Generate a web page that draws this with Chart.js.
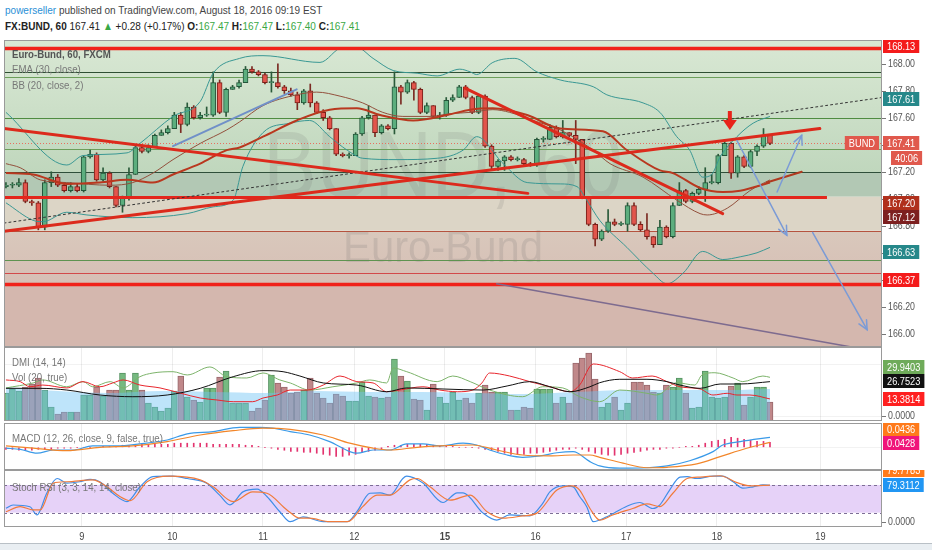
<!DOCTYPE html>
<html>
<head>
<meta charset="utf-8">
<title>FX:BUND, 60</title>
<script src="https://cdn.jsdelivr.net/npm/chart.js@4.4.1/dist/chart.umd.min.js"></script>
<style>
  body { margin:0; width:932px; height:550px; overflow:hidden; background:#fff; position:relative;
         font-family:"Liberation Sans", Arial, sans-serif; }
  .hdr { position:absolute; left:5px; font-size:11.5px; color:#444; white-space:nowrap;
         transform:scaleX(0.87); transform-origin:0 0; }
  #h1 { top:4px; }
  #h2 { top:20px; color:#222; }
  .user { color:#2b8fd6; }
  .up { color:#3aa845; }
  canvas { position:absolute; left:0; }
  #foot { position:absolute; left:0; top:543px; width:932px; height:7px; background:#e9eef2; border-top:1px solid #b9c0c6; }
</style>
</head>
<body>
<div class="hdr" id="h1"><span class="user">powerseller</span> published on TradingView.com, August 18, 2016 09:19 EST</div>
<div class="hdr" id="h2"><b>FX:BUND, 60</b> 167.41 <span class="up">&#9650;</span> +0.28 (+0.17%) <b>O:</b><span class="up">167.47</span> <b>H:</b><span class="up">167.47</span> <b>L:</b><span class="up">167.40</span> <b>C:</b><span class="up">167.41</span></div>
<canvas id="main" width="932" height="307" style="top:40px"></canvas>
<canvas id="dmi" width="932" height="74" style="top:347px"></canvas>
<canvas id="macd" width="932" height="47" style="top:423px"></canvas>
<canvas id="stoch" width="932" height="80" style="top:470px"></canvas>
<div id="foot"></div>
<script>
// ---- data (hourly bars, index 0 = first bar on the left) ----
const dayLabels = ['9', '10', '11', '12', '15', '16', '17', '18', '19'];
const dayPos = [11.7, 25.7, 39.7, 53.8, 67.8, 81.8, 95.8, 109.8, 125.8];
const priceTicks = [166.0, 166.2, 166.4, 166.6, 166.8, 167.0, 167.2, 167.4, 167.6, 167.8, 168.0];

const firstOpen = 167.09;
const closes = [167.10,167.10,167.12,166.98,166.97,166.79,167.12,167.16,167.10,167.06,
  167.09,167.06,167.31,167.33,167.14,167.19,167.09,166.95,167.01,167.18,
  167.38,167.35,167.38,167.47,167.49,167.52,167.62,167.55,167.68,167.60,
  167.62,167.62,167.86,167.64,167.81,167.83,167.86,167.96,167.94,167.92,
  167.86,167.86,167.83,167.80,167.77,167.71,167.80,167.71,167.64,167.60,
  167.52,167.33,167.32,167.32,167.48,167.60,167.62,167.49,167.54,167.52,
  167.83,167.79,167.86,167.81,167.64,167.69,167.61,167.62,167.73,167.75,
  167.83,167.75,167.64,167.76,167.39,167.24,167.28,167.31,167.29,167.29,
  167.26,167.25,167.44,167.44,167.53,167.46,167.49,167.47,167.44,167.01,
  166.81,166.70,166.76,166.83,166.81,166.81,166.95,166.81,166.77,166.72,
  166.66,166.79,166.72,166.95,167.06,166.98,167.04,167.07,167.12,167.12,
  167.32,167.41,167.19,167.31,167.24,167.35,167.39,167.47,167.41];
const highs = [167.12,167.12,167.15,167.14,166.99,166.98,167.14,167.20,167.18,167.12,
  167.12,167.11,167.32,167.36,167.34,167.23,167.20,167.09,167.02,167.23,
  167.40,167.40,167.40,167.48,167.51,167.54,167.64,167.64,167.71,167.69,
  167.64,167.68,167.94,167.88,167.82,167.84,167.88,167.98,167.98,167.95,
  167.93,167.94,168.00,167.84,167.82,167.79,167.81,167.85,167.72,167.66,
  167.61,167.52,167.34,167.34,167.49,167.61,167.69,167.62,167.55,167.55,
  167.94,167.84,167.88,167.87,167.82,167.71,167.69,167.64,167.75,167.77,
  167.84,167.84,167.76,167.77,167.77,167.40,167.29,167.32,167.32,167.31,
  167.30,167.27,167.45,167.46,167.55,167.54,167.58,167.49,167.58,167.44,
  167.01,166.82,166.77,166.92,166.85,166.83,166.97,166.97,166.83,166.89,
  166.72,166.84,166.80,166.97,167.12,167.07,167.05,167.09,167.23,167.18,
  167.33,167.44,167.42,167.32,167.32,167.36,167.40,167.52,167.47];
const lows = [167.08,167.08,167.09,166.97,166.95,166.77,166.77,167.09,167.09,167.05,
  167.05,167.05,167.05,167.30,167.13,167.13,167.08,166.94,166.90,166.99,
  167.18,167.34,167.34,167.38,167.47,167.48,167.52,167.49,167.54,167.59,
  167.59,167.61,167.61,167.63,167.61,167.81,167.82,167.86,167.93,167.91,
  167.85,167.79,167.82,167.78,167.76,167.66,167.70,167.68,167.63,167.58,
  167.51,167.32,167.31,167.30,167.32,167.47,167.59,167.46,167.48,167.51,
  167.48,167.70,167.78,167.73,167.63,167.63,167.60,167.59,167.61,167.72,
  167.75,167.74,167.63,167.63,167.38,167.22,167.21,167.21,167.28,167.28,
  167.25,167.24,167.24,167.42,167.44,167.45,167.45,167.46,167.26,167.00,
  166.80,166.65,166.69,166.75,166.80,166.80,166.76,166.80,166.76,166.70,
  166.64,166.66,166.71,166.71,166.95,166.97,166.97,167.03,166.98,167.11,
  167.11,167.32,167.15,167.16,167.23,167.23,167.32,167.38,167.40];

const emaPts = [[0,167.19],[4.2,167.18],[9.4,167.11],[14.5,167.12],[18.7,167.14],[22.7,167.12],[25.8,167.18],
  [30,167.26],[34.1,167.36],[36.1,167.38],[39.7,167.46],[44.9,167.58],[50,167.66],[54.2,167.67],[57.8,167.62],
  [62.9,167.58],[68.1,167.62],[71.7,167.66],[75.2,167.67],[80.5,167.62],[85.6,167.52],[92.2,167.50],
  [95.9,167.36],[101,167.21],[103,167.19],[107.2,167.08],[110.7,167.05],[113.4,167.06],[118,167.12]];
const bbUpper = [[0,167.64],[9.4,167.25],[11.9,167.32],[18.7,167.34],[20.7,167.41],[25.8,167.61],[30,167.72],
  [32,167.93],[36.1,168.04],[39.7,168.06],[48.5,168.01],[52,168.12],[54.2,168.12],[56.7,168.04],[59.8,167.95],
  [63.5,167.93],[66.6,167.91],[70.1,167.96],[71.7,167.94],[72.7,167.92],[75.2,168.01],[78.6,168.04],[82,167.94],
  [85.6,167.88],[90.7,167.83],[92.8,167.77],[98.4,167.71],[101,167.64],[103.6,167.46],[105.6,167.36],
  [107.6,167.16],[109,167.18],[110.3,167.31],[112.9,167.46],[115.4,167.56],[118,167.61]];
const bbLower = [[0,166.97],[4.2,166.84],[5.7,166.83],[9.4,166.90],[12.5,166.88],[19.6,166.86],[28,166.89],
  [32,166.94],[35.1,166.99],[36.6,167.24],[39.7,167.49],[43.9,167.56],[46.9,167.58],[50,167.46],[52.7,167.36],
  [55.1,167.30],[60.4,167.29],[66.6,167.30],[70.6,167.36],[72.7,167.46],[76.8,167.26],[80.5,167.12],
  [85.6,167.11],[88.2,167.09],[89.7,166.99],[91.7,166.84],[95.9,166.64],[99.9,166.45],[102.1,166.37],
  [104.6,166.45],[107.6,166.61],[110.7,166.55],[113.4,166.57],[116,166.60],[118,166.64]];
const bbBasis = [[0,167.26],[2.2,167.23],[5.3,167.14],[9.4,167.12],[16.1,167.10],[19.6,167.12],[22.7,167.19],
  [25.8,167.29],[30,167.41],[34.1,167.51],[36.1,167.57],[39.7,167.69],[44.9,167.77],[48,167.79],[51.6,167.76],
  [55.1,167.71],[58.2,167.64],[61.3,167.61],[65.5,167.61],[68.6,167.63],[71.7,167.64],[75.2,167.66],
  [77.8,167.64],[81.4,167.58],[85.6,167.51],[90.7,167.36],[93.3,167.26],[98.4,167.16],[103.6,166.99],
  [107.2,166.89],[108.3,166.88],[111.4,166.93],[114.9,167.06],[118,167.14]];

// drawn horizontal levels and trend lines, in (bar, price)
const thinLevels = [167.94, 167.90, 167.60, 167.37, 167.20, 166.76, 166.55, 166.45];
const thickLevels = [168.12, 166.37];
const supportLevel = 167.015;
const trendRed = [[[-0.3,167.52],[80.6,167.04]], [[-0.3,166.76],[125.7,167.52]], [[70.9,167.82],[110.7,166.89]]];
const trendBrown = [[117.5,167.12],[122.9,167.20]];
const trendDotted = [[-0.3,166.82],[135.3,167.75]];
const trendBlue = [[25.8,167.39],[44.9,167.81]];
const arrowsBlue = [[[112.9,167.43],[120.6,166.73]], [[119.1,167.05],[122.9,167.47]], [[124.6,166.75],[133,166.03]]];
const trendPurple = [[75.8,166.37],[130.8,165.90]];
const redArrow = [111.8, 167.65, 167.51];

const volume = [27,31,29,33,36,42,30,13,6,8, 8,8,25,25,33,24,30,30,47,30,
  47,30,17,13,9,12,29,44,23,20, 18,32,32,43,49,17,17,17,9,12,
  20,45,37,33,27,28,30,42,27,22, 17,26,24,19,19,38,24,23,22,23,
  61,44,39,21,20,10,36,23,17,28, 20,22,17,27,35,28,28,28,10,10,
  13,12,31,31,31,17,23,17,57,62, 67,41,13,17,23,10,17,38,38,35,
  28,27,35,33,42,27,12,13,49,23, 22,23,34,37,15,23,33,33,18];
const volMaPts = [[0,33],[8,29],[16,27],[24,29],[32,28],[40,27],[48,29],[56,28],[64,28],[72,27],[80,26],
  [88,28],[96,30],[104,30],[112,30],[118,31]];
const plusDI = [[0,21.8],[4.2,25.6],[5.7,27.9],[9.4,22.7],[11.9,26.6],[13.4,22.7],[16.1,26.6],[18.1,21.8],
  [20.7,30.4],[22.7,33.2],[25.8,34.2],[28,31.7],[31.5,37.8],[34.1,30.4],[37.2,29.4],[39.7,33.2],[42.3,27.9],
  [43.9,25.6],[46.9,20.2],[50.5,22.7],[54.2,25.6],[56.2,27.9],[58.8,25.6],[59.8,37.0],[61.9,34.2],[66.6,26.6],
  [69,30.9],[71.7,26.6],[74.7,20.2],[79.8,15.1],[82.9,22.7],[86,21.8],[88.6,15.1],[91.7,11.3],[94.8,20.2],
  [99,17.7],[100.5,16.4],[103.6,25.8],[106.4,24.0],[107.5,31.7],[109.5,33.4],[112.3,29.4],[113.8,26.6],
  [116.9,30.9],[118,29.9]];
const minusDI = [[0,27.9],[2.2,26.6],[3.7,22.7],[5.7,24.0],[9.4,21.8],[11.9,26.6],[14.5,22.7],[16.5,25.6],
  [18.1,27.9],[20.7,24.0],[23.8,21.8],[26.9,17.9],[30,14.1],[32.6,12.6],[35.1,11.3],[38.1,11.3],[39.7,14.1],
  [41.9,16.4],[43.9,20.2],[46.5,20.2],[49,24.0],[51.6,30.9],[54.2,26.6],[56.7,25.6],[58.8,18.9],[60.8,20.2],
  [64.4,22.7],[67,20.2],[69.7,18.9],[72.1,20.2],[73.5,25.6],[74.7,33.2],[77.8,30.9],[80.9,26.6],[84,22.7],
  [87.1,18.9],[88.6,24.0],[90.7,40.1],[94.8,34.2],[96.8,29.4],[99.8,30.9],[102.1,26.6],[104.1,22.7],
  [107.2,21.0],[109.2,16.4],[111.4,17.7],[112.9,16.4],[114.9,16.4],[118,13.4]];
const adx = [[0,21.5],[5.3,21.5],[9.4,20.2],[14.5,16.4],[19.6,15.1],[24.9,16.4],[30,21.5],[35.1,30.4],
  [39.7,35.0],[42.8,34.2],[45.4,30.9],[49,25.6],[54.2,24.0],[58.8,18.9],[61.9,21.8],[67.5,21.0],[73.7,20.2],
  [77.4,23.3],[80.9,26.6],[84,22.7],[87.1,18.9],[90.2,22.7],[91.7,25.8],[94.8,28.4],[99,28.4],[102.1,26.6],
  [104.1,24.0],[107.2,21.5],[110.3,24.8],[113.4,24.8],[118,26.6]];

const macdHist = [-0.009,-0.009,-0.013,-0.013,-0.013,-0.009,-0.009,-0.009,
  -0.004,-0.004,-0.004,0,0,0,0,0.004,
  0.004,0.004,0.009,0.009,0.009,0.013,0.013,0.013,0.013,0.013,
  0.018,0.018,0.018,0.018,0.018,0.018,0.013,0.013,0.013,0.013,0.013,0.009,0.009,
  0.004,0,-0.004,-0.009,-0.013, -0.018,-0.018,-0.022,-0.022,
  -0.026,-0.031,-0.035,-0.040,-0.040,-0.035,-0.031, -0.022,-0.018,-0.013,-0.009,
  0.004,0.009,0.009,0.013, 0.013,0.013,0.013,0.009, 0.004,0.004,0.004,0,0,0,
  -0.004,-0.009,-0.013,-0.018, -0.026,-0.031,-0.031,-0.031,-0.026,-0.026,-0.022,-0.018,
  -0.013,-0.009,-0.009,-0.004,-0.009,-0.018, -0.026,-0.031,-0.035,-0.035,-0.031,-0.026,-0.022,
  -0.018,-0.013,-0.009,-0.009,-0.004,-0.004, 0,0.004,0.004,
  0.009,0.018,0.026,0.031,0.035,0.044, 0.040,0.035,0.031,0.026,0.026,0.022];
const macdLine = [[0,-0.004],[2.2,-0.009],[4.8,-0.026],[7.3,-0.012],[10.3,-0.012],[13.4,0.006],[17.1,0.006],
  [20.7,0.015],[24.9,0.032],[28,0.059],[32,0.069],[36.1,0.088],[39.2,0.088],[41.2,0.084],[43.9,0.069],
  [46.9,0.054],[50,0.025],[53.1,-0.019],[54.2,-0.026],[56.7,-0.012],[59.3,-0.012],[61.9,0.015],[64.4,0.015],
  [67,0.006],[70.6,0.018],[72.7,0.010],[74.7,-0.012],[77.4,-0.034],[79.8,-0.044],[82.5,-0.038],[85.1,-0.024],
  [87.6,-0.019],[90.2,-0.063],[91.7,-0.082],[94.8,-0.092],[99,-0.090],[102.1,-0.082],[105.6,-0.059],
  [109.2,-0.019],[110.7,0.010],[113.4,0.025],[118,0.044]];
const signalLine = [[0,0.006],[4.2,-0.004],[9.4,-0.015],[14.5,0],[19.6,0.006],[24.9,0.025],[30,0.054],
  [35.1,0.073],[39.7,0.084],[43.9,0.079],[49,0.054],[53.1,0.018],[56.7,-0.004],[59.3,-0.012],[63.5,0],
  [67,0.006],[72.1,0.010],[75.8,-0.012],[79.8,-0.034],[84,-0.038],[87.6,-0.034],[90.2,-0.034],[91.7,-0.044],
  [95.3,-0.070],[99,-0.090],[102.1,-0.088],[106.7,-0.073],[110.3,-0.041],[114.4,-0.004],[118,0.022]];

const stochK = [[0,29.5],[1.1,36.6],[3.7,32.9],[4.8,15],[6.3,62],[7.9,94],[9.4,84],[11.4,87],[13,92],
  [14.5,87],[16.5,62],[18.7,44],[20.7,76],[22.7,98],[25.8,99],[28,94],[31,84],[33,58],[34.6,37],[36.6,65],
  [38.8,71],[40.3,55],[42.3,22],[43.9,0.4],[45.9,11],[49,0.4],[52.7,0.4],[54.2,22],[56.2,62],[57.8,63],
  [59.3,58],[61.3,94],[61.9,99],[64.4,84],[67.5,42],[69.7,63],[70.6,63],[73.7,19],[75.8,4],[77.8,15],
  [80.9,13],[82.9,40],[84,65],[86,78],[87.6,76],[88.6,55],[89.7,33],[90.7,0.4],[92.8,11],[95.9,34],
  [97.9,42],[99.9,29],[101,37],[102.5,69],[104.1,97],[105.2,98],[106.7,94],[109.2,99],[110.7,99],
  [112.3,87],[113.8,73],[115.4,76],[116.9,80],[118,79.3]];
const stochD = [[0,22],[2.2,33],[4.2,26],[5.3,26],[7.3,84],[9.4,87],[13.4,91],[15.6,76],[17.6,55],
  [19.2,46],[21.8,87],[25.3,99],[30,91],[32,76],[35.1,44],[38.1,65],[40.3,62],[43.4,26],[45.4,8],[46.9,8],
  [50,0.4],[52.8,0.4],[55.1,33],[57.3,58],[59.3,58],[62.4,91],[63.5,94],[65.5,76],[68.6,47],[71.7,58],
  [74.3,22],[76.8,8],[79.8,13],[82,19],[85.1,69],[87.4,78],[88.6,69],[90.2,29],[91.7,4],[93.7,15],
  [96.8,29],[99,39],[101,33],[103,62],[105.2,94],[107.2,97],[110.3,100],[112.9,85],[114.9,78],[118,79.8]];

// ---- helpers ----
const FONT = '"Liberation Sans", Arial, sans-serif';
const SQ = 0.84; // text is condensed in the picture
const pts = a => a.map(p => ({x: p[0], y: p[1]}));
const opens = closes.map((c, i) => i ? closes[i - 1] : firstOpen);
const isUp = closes.map((c, i) => c >= opens[i]);

function ntext(ctx, s, x, y, align, sx) {
  ctx.save();
  ctx.translate(x, y);
  ctx.scale(sx || SQ, 1);
  ctx.textAlign = align || 'left';
  ctx.fillText(s, 0, 0);
  ctx.restore();
}
function nwidth(ctx, s, sx) { return ctx.measureText(s).width * (sx || SQ); }

function drawLevel(ctx, xs, ys, a, h) {
  const py = Math.round(ys.getPixelForValue(h.value)) + (h.width % 2 ? 0.5 : 0);
  ctx.strokeStyle = h.color;
  ctx.lineWidth = h.width;
  ctx.setLineDash(h.dash || []);
  ctx.beginPath();
  ctx.moveTo(h.from != null ? xs.getPixelForValue(h.from) : a.left, py);
  ctx.lineTo(h.to != null ? xs.getPixelForValue(h.to) : a.right, py);
  ctx.stroke();
  ctx.setLineDash([]);
}

function drawSeg(ctx, xs, ys, s) {
  const x1 = xs.getPixelForValue(s.p[0][0]), y1 = ys.getPixelForValue(s.p[0][1]);
  const x2 = xs.getPixelForValue(s.p[1][0]), y2 = ys.getPixelForValue(s.p[1][1]);
  ctx.strokeStyle = s.color;
  ctx.lineWidth = s.width;
  ctx.lineCap = 'round';
  ctx.setLineDash(s.dash || []);
  ctx.beginPath(); ctx.moveTo(x1, y1); ctx.lineTo(x2, y2); ctx.stroke();
  ctx.setLineDash([]);
  if (s.head) {
    const ang = Math.atan2(y2 - y1, x2 - x1), L = 10;
    ctx.beginPath();
    ctx.moveTo(x2 - L * Math.cos(ang - 0.45), y2 - L * Math.sin(ang - 0.45));
    ctx.lineTo(x2, y2);
    ctx.lineTo(x2 - L * Math.cos(ang + 0.45), y2 - L * Math.sin(ang + 0.45));
    ctx.stroke();
  }
}

// per-panel decorations, looked up by canvas id (kept outside chart options)
const decorCfg = {};

const decor = {
  id: 'decor',
  beforeDatasetsDraw(chart) {
    const o = decorCfg[chart.canvas.id] || {};
    const {ctx, chartArea: a} = chart;
    const xs = chart.scales.x, ys = chart.scales.y;
    ctx.save();
    ctx.beginPath(); ctx.rect(a.left, a.top, a.width, a.height); ctx.clip();
    for (const b of o.bands || []) {
      const y1 = ys.getPixelForValue(b.from), y2 = ys.getPixelForValue(b.to);
      let fill = b.color;
      if (Array.isArray(fill)) {
        const g = ctx.createLinearGradient(0, y1, 0, y2);
        g.addColorStop(0, fill[0]); g.addColorStop(1, fill[1]);
        fill = g;
      }
      ctx.fillStyle = fill;
      ctx.fillRect(a.left, y1, a.width, y2 - y1);
    }
    for (const w of o.watermark || []) {
      ctx.font = w.font; ctx.fillStyle = w.color; ctx.textBaseline = 'alphabetic';
      ntext(ctx, w.text, (a.left + a.right) / 2, a.top + w.baseline, 'center', w.sx);
    }
    for (const h of o.levels || []) drawLevel(ctx, xs, ys, a, h);
    ctx.restore();
  },
  afterDatasetsDraw(chart) {
    const o = decorCfg[chart.canvas.id] || {};
    const {ctx, chartArea: a} = chart;
    const xs = chart.scales.x, ys = chart.scales.y;
    ctx.save();
    ctx.beginPath(); ctx.rect(a.left, a.top, a.width, a.height); ctx.clip();
    for (const h of o.topLevels || []) drawLevel(ctx, xs, ys, a, h);
    for (const s of o.segments || []) drawSeg(ctx, xs, ys, s);
    for (const ar of o.bigArrows || []) {
      const bx = xs.getPixelForValue(ar.x), top = ys.getPixelForValue(ar.from), tip = ys.getPixelForValue(ar.to);
      ctx.fillStyle = ar.color;
      ctx.fillRect(bx - 2, top, 4, tip - top - 8);
      ctx.beginPath();
      ctx.moveTo(bx - 7, tip - 10); ctx.lineTo(bx + 7, tip - 10); ctx.lineTo(bx, tip);
      ctx.closePath(); ctx.fill();
    }
    for (const L of o.inside || []) {
      ctx.font = '11px ' + FONT; ctx.textBaseline = 'middle';
      const py = Math.round(ys.getPixelForValue(L.value));
      const w = nwidth(ctx, L.text) + 8;
      ctx.fillStyle = L.bg;
      ctx.fillRect(a.right - w - 3, py - 7, w, 14);
      ctx.fillStyle = '#fff';
      ntext(ctx, L.text, a.right - w + 1, py + 0.5);
    }
    ctx.textBaseline = 'middle';
    for (const t of o.legend || []) {
      ctx.font = (t.bold ? 'bold ' : '') + '11.5px ' + FONT;
      ctx.fillStyle = t.color || '#777';
      ntext(ctx, t.text, a.left + 8, a.top + t.y);
    }
    ctx.restore();
  },
  afterDraw(chart) {
    const o = decorCfg[chart.canvas.id] || {};
    const {ctx, chartArea: a} = chart;
    const xs = chart.scales.x, ys = chart.scales.y;
    ctx.save();
    ctx.strokeStyle = '#9a9a9a'; ctx.lineWidth = 1;
    ctx.strokeRect(a.left + 0.5, a.top + 0.5, a.width - 1, a.height - 1);
    ctx.textBaseline = 'middle';
    ctx.font = '10.5px ' + FONT;
    for (const v of o.axisTicks || []) {
      const py = Math.round(ys.getPixelForValue(v)) + 0.5;
      ctx.fillStyle = '#777';
      ctx.fillRect(a.right, py - 0.5, 4, 1);
      ctx.fillStyle = '#555';
      ntext(ctx, v.toFixed(o.decimals), a.right + 6, py);
    }
    ctx.font = '11px ' + FONT;
    for (const L of o.labels || []) {
      const py = Math.round(ys.getPixelForValue(L.value) + (L.shift || 0));
      const x0 = a.right + 1 + (L.dx || 0);
      const w = nwidth(ctx, L.text) + 8;
      ctx.fillStyle = L.bg;
      ctx.fillRect(x0, py - 7, w, 14);
      ctx.fillStyle = L.fg || '#fff';
      ntext(ctx, L.text, x0 + 4, py + 0.5);
    }
    if (o.days) {
      dayLabels.forEach((d, i) => {
        ctx.font = (d === '15' ? 'bold ' : '') + '11px ' + FONT;
        ctx.fillStyle = '#444';
        ntext(ctx, d, xs.getPixelForValue(dayPos[i]), a.bottom + 10, 'center');
      });
    }
    ctx.restore();
  }
};
Chart.register(decor);

const xAxis = () => ({
  type: 'linear', min: -0.3, max: 135.3, offset: false,
  afterBuildTicks: s => { s.ticks = dayPos.map(v => ({value: v})); },
  ticks: {display: false},
  grid: {color: 'rgba(0,0,0,0.07)', drawTicks: false, offset: false},
  border: {display: false}
});
const yAxis = (min, max, gridVals) => ({
  position: 'right', min, max,
  afterFit: s => { s.width = 50; },
  afterBuildTicks: s => { s.ticks = gridVals.map(v => ({value: v})); },
  ticks: {display: false},
  grid: {color: 'rgba(0,0,0,0.05)', drawTicks: false},
  border: {display: false}
});
const line = (points, color, width, order, extra) => Object.assign({
  type: 'line', data: pts(points), borderColor: color, borderWidth: width,
  pointRadius: 0, cubicInterpolationMode: 'monotone', fill: false, order
}, extra || {});
const options = (scales, padBottom) => ({
  responsive: false, animation: false, devicePixelRatio: 1, events: [],
  layout: {padding: {left: 4, right: 0, top: 0, bottom: padBottom || 0}},
  plugins: {legend: {display: false}, tooltip: {enabled: false}},
  scales: Object.assign({x: xAxis()}, scales)
});

// ---- price panel ----
const thinColors = ['#2f4f33', '#6c9e5a', '#4f8c41', '#6c9e5a', '#2f4f3a', '#b5533f', '#5f9350', '#d24a4a'];
decorCfg.main = {
  bands: [
    {from: 168.176, to: 167.196, color: ['#d9e8d4', '#c0d7bd']},
    {from: 167.196, to: 167.015, color: '#b2c8b4'},
    {from: 167.015, to: 166.763, color: '#dcd5c6'},
    {from: 166.763, to: 166.368, color: ['#d9c8bc', '#d6bfb5']},
    {from: 166.368, to: 165.902, color: '#d4b7ae'}
  ],
  watermark: [
    {text: 'BUND, 60', font: '94px ' + FONT, color: 'rgba(110,110,110,0.15)', baseline: 157, sx: 0.85},
    {text: 'Euro-Bund', font: '45px ' + FONT, color: 'rgba(110,110,110,0.18)', baseline: 222, sx: 0.93}
  ],
  levels: thinLevels.map((v, i) => ({value: v, color: thinColors[i], width: 1}))
    .concat([{value: closes[closes.length - 1], color: '#e8705f', width: 1, dash: [1, 2]}]),
  topLevels: thickLevels.map(v => ({value: v, color: '#f0221a', width: 3.5}))
    .concat([{value: supportLevel, to: 126.8, color: '#e3261c', width: 3}]),
  segments: [
    {p: trendDotted, color: '#333', width: 1, dash: [2, 3]},
    {p: trendBlue, color: '#7090c8', width: 2},
    {p: trendPurple, color: '#7d6b8f', width: 1.5},
    ...trendRed.map(p => ({p, color: '#dc2a1c', width: 3})),
    {p: trendBrown, color: '#b0391f', width: 2},
    ...arrowsBlue.map(p => ({p, color: '#7b9bd6', width: 1.5, head: true}))
  ],
  bigArrows: [{x: redArrow[0], from: redArrow[1], to: redArrow[2], color: '#e8231a'}],
  inside: [{text: 'BUND', value: 167.41, bg: '#e0594d'}],
  legend: [
    {text: 'Euro-Bund, 60, FXCM', y: 15, bold: true, color: '#555'},
    {text: 'EMA (30, close)', y: 30},
    {text: 'BB (20, close, 2)', y: 46}
  ],
  axisTicks: priceTicks, decimals: 2,
  labels: [
    {text: '168.13', value: 168.13, bg: '#f41b1b'},
    {text: '167.61', value: 167.61, bg: '#26888a', shift: -17},
    {text: '167.41', value: 167.41, bg: '#e0594d'},
    {text: '40:06', value: 167.41, bg: '#e0594d', shift: 15, dx: 8},
    {text: '167.20', value: 167.20, bg: '#b0301c', shift: 31},
    {text: '167.12', value: 167.12, bg: '#7d2020', shift: 34},
    {text: '166.63', value: 166.63, bg: '#26888a', shift: 3},
    {text: '166.37', value: 166.37, bg: '#f41b1b', shift: -4}
  ]
};
new Chart(document.getElementById('main'), {
  type: 'bar',
  data: {datasets: [
    {data: lows.map((l, i) => ({x: i, y: [l, highs[i]]})), backgroundColor: isUp.map(u => u ? '#2a5a3a' : '#7a2a22'),
     barThickness: 1, grouped: false, order: 10},
    {data: opens.map((o, i) => ({x: i, y: [o, closes[i]]})), backgroundColor: isUp.map(u => u ? '#5cae7e' : '#e2554c'),
     borderColor: isUp.map(u => u ? '#24553a' : '#7a1f18'), borderWidth: 1, borderSkipped: false,
     barThickness: 5, minBarLength: 1, grouped: false, order: 9},
    line(bbUpper, '#3a9894', 1, 4),
    line(bbLower, '#3a9894', 1, 4),
    line(bbBasis, '#93503c', 1, 3),
    line(emaPts, '#b9381f', 2, 2)
  ]},
  options: options({y: yAxis(165.902, 168.176, priceTicks)})
});

// ---- DMI + volume panel ----
decorCfg.dmi = {
  legend: [{text: 'DMI (14, 14)', y: 16}, {text: 'Vol (20, true)', y: 31}],
  axisTicks: [0], decimals: 4,
  labels: [
    {text: '29.9403', value: 29.94, bg: '#6fab5a', shift: -10.6},
    {text: '26.7523', value: 26.75, bg: '#111111'},
    {text: '13.3814', value: 13.38, bg: '#ff2020'}
  ]
};
new Chart(document.getElementById('dmi'), {
  type: 'bar',
  data: {datasets: [
    {yAxisID: 'yVol', data: volume.map((v, i) => ({x: i, y: v})),
     backgroundColor: isUp.map(u => u ? 'rgb(118,186,128)' : 'rgb(192,136,138)'),
     borderColor: isUp.map(u => u ? 'rgb(86,146,98)' : 'rgb(152,104,108)'),
     borderWidth: 1, barThickness: 6, grouped: false, order: 6},
    line(volMaPts, 'rgba(0,0,0,0)', 0, 5, {yAxisID: 'yVol', fill: 'origin', backgroundColor: 'rgba(110,195,245,0.45)'}),
    line(plusDI, '#7cb36a', 1, 3),
    line(minusDI, '#e8262d', 1, 2),
    line(adx, '#111', 1, 1)
  ]},
  options: options({
    y: yAxis(-3.44, 53.05, [0, 40]),
    yVol: {display: false, min: -1, max: 73}
  })
});

// ---- MACD panel ----
decorCfg.macd = {
  legend: [{text: 'MACD (12, 26, close, 9, false, true)', y: 16}],
  labels: [
    {text: '0.0436', value: 0.0436, bg: '#ff7a1a', shift: -8},
    {text: '0.0428', value: 0.0428, bg: '#f0157a', shift: 5}
  ]
};
new Chart(document.getElementById('macd'), {
  type: 'bar',
  data: {datasets: [
    {data: macdHist.map((v, i) => ({x: i, y: v})), backgroundColor: '#e3346f', barThickness: 1, grouped: false, order: 5},
    line(macdLine, '#3a9ae8', 1.2, 2),
    line(signalLine, '#f2862a', 1.2, 1)
  ]},
  options: options({y: yAxis(-0.0999, 0.1069, [0])})
});

// ---- Stoch RSI panel + time axis ----
decorCfg.stoch = {
  bands: [{from: 20, to: 80, color: '#e6d2f8'}],
  levels: [
    {value: 80, color: '#7d6e96', width: 1, dash: [3, 3]},
    {value: 20, color: '#7d6e96', width: 1, dash: [3, 3]}
  ],
  legend: [{text: 'Stoch RSI (3, 3, 14, 14, close)', y: 18}],
  axisTicks: [0], decimals: 4,
  labels: [
    {text: '79.7783', value: 79.78, bg: '#ff7a1a', shift: -15},
    {text: '79.3112', value: 79.31, bg: '#2196f3'}
  ],
  days: true
};
new Chart(document.getElementById('stoch'), {
  type: 'line',
  data: {datasets: [
    line(stochK, '#3f8ee8', 1.2, 2),
    line(stochD, '#f07b3c', 1.2, 1)
  ]},
  options: options({y: yAxis(-11.05, 112.4, [])}, 23)
});
</script>
</body>
</html>
